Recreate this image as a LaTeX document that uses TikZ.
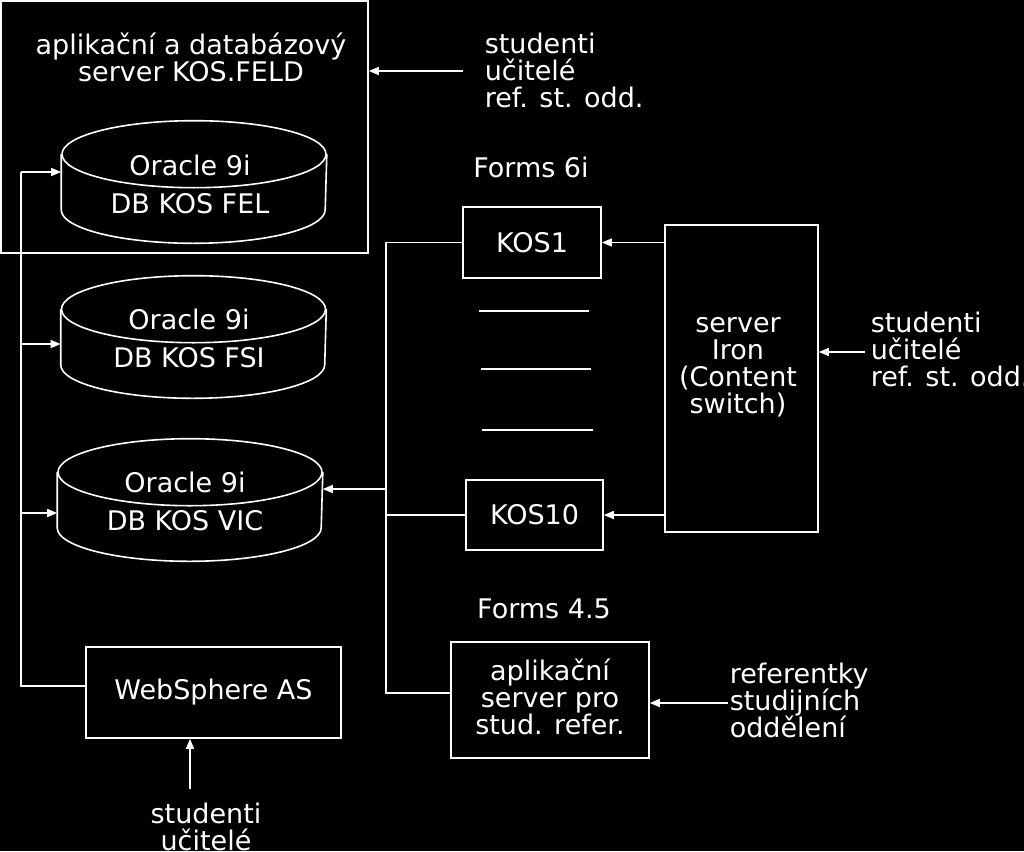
\documentclass[tikz,border=0pt]{standalone}
\usepackage{fontspec}
\setmainfont{DejaVu Sans}
\usetikzlibrary{arrows.meta}
\newcommand\zs{\rule[-6pt]{0pt}{27pt}}
\begin{document}
\lineskiplimit=-100pt
\lineskip=0pt
\begin{tikzpicture}[x=1pt,y=-1pt,line width=1.6pt,color=white,
  every node/.style={text=white,font=\fontsize{27}{27}\selectfont,inner sep=0pt},
  box/.style={draw=white,rectangle},
  body/.style={rectangle,minimum height=54pt,minimum width=264pt},
  lbl/.style={align=center,anchor=north},
  lbll/.style={align=left,anchor=north west},
  arr/.style={-{Triangle[length=10pt,width=8pt]}}]
\fill[black] (0,0) rectangle (1024,851);
\useasboundingbox (0,0) rectangle (1024,851);

% application and database server
\node[box,minimum width=367pt,minimum height=252pt] (feld) at (184.5,127) {};
\node[lbl] (feldt) at (191,32) {\zs aplikační a databázový\\\zs server KOS.FELD};

% databases
\node[body] (db1) at (194,182) {};
\node[body] (db2) at (193.5,337) {};
\node[body] (db3) at (190,500) {};
\foreach \d in {db1,db2,db3}{
  \draw (\d.north) ellipse [x radius=132pt,y radius=33.5pt];
  \draw (\d.north west) -- (\d.south west) arc [start angle=180,end angle=360,x radius=132pt,y radius=33.5pt] -- (\d.north east);
}
\node[lbl] (db1t) at (190,154) {\zs Oracle 9i\\[10.5pt]\zs DB KOS FEL};
\node[lbl] (db2t) at (189,308) {\zs Oracle 9i\\[10.5pt]\zs DB KOS FSI};
\node[lbl] (db3t) at (185,471) {\zs Oracle 9i\\[10.5pt]\zs DB KOS VIC};

% WebSphere
\node[box,minimum width=255pt,minimum height=91pt] (ws) at (213.5,692.5) {WebSphere AS};

% Forms servers
\node[lbl] (f6) at (531,156) {\zs Forms 6i};
\node[box,minimum width=138pt,minimum height=71pt] (kos1) at (532,242.5) {KOS1};
\node[box,minimum width=137pt,minimum height=70pt] (kos10) at (534.5,515) {KOS10};
\draw (479,311) -- (589,311);
\draw (481,369) -- (591,369);
\draw (482,430) -- (593,430);

% server Iron
\node[box,minimum width=153pt,minimum height=307pt] (iron) at (741.5,378.5) {};
\node[lbl] (iront) at (738,311) {\zs server\\\zs Iron\\\zs (Content\\\zs switch)};

% Forms 4.5
\node[lbl] (f45) at (544,597) {\zs Forms 4.5};
\node[box,minimum width=198pt,minimum height=116pt,align=center] (app) at (550,700) {\zs aplikační\\\zs server pro\\\zs stud. refer.};

% user labels
\node[lbll] (u1) at (484,32) {\zs studenti\\\zs učitelé\\\zs ref. st. odd.};
\node[lbll] (u2) at (870,311) {\zs studenti\\\zs učitelé\\\zs ref. st. odd.};
\node[lbll] (u3) at (729,662) {\zs referentky\\\zs studijních\\\zs oddělení};
\node[lbl] (u4) at (206,802) {\zs studenti\\\zs učitelé};

% connectors: left bus
\coordinate (bl1) at (21,172);
\coordinate (bl2) at (21,344);
\coordinate (bl3) at (21,513);
\coordinate (bl4) at (21,686);
\draw (bl4 -| ws.west) -- (bl4) -- (bl1);
\draw[arr] (bl1) -- (bl1 -| db1.west);
\draw[arr] (bl2) -- (bl2 -| db2.west);
\draw[arr] (bl3) -- (bl3 -| db3.west);

% connectors: right bus
\coordinate (br1) at (386,242);
\coordinate (br2) at (386,489);
\coordinate (br3) at (386,693);
\draw (kos1.west) -- (kos1.west -| br1) -- (br3) -- (br3 -| app.west);
\draw (kos10.west) -- (kos10.west -| br1);
\draw[arr] (br2) -- (br2 -| db3.east);

% server Iron to KOS
\draw[arr] (iron.west |- kos1.west) -- (kos1.east);
\draw[arr] (iron.west |- kos10.west) -- (kos10.east);

% users
\coordinate (a1) at (463,71);
\coordinate (a2) at (865,352);
\coordinate (a3) at (728,703);
\coordinate (a4) at (190,789);
\draw[arr] (a1) -- (a1 -| feld.east);
\draw[arr] (a2) -- (a2 -| iron.east);
\draw[arr] (a3) -- (a3 -| app.east);
\draw[arr] (a4) -- (a4 |- ws.south);
\end{tikzpicture}
\end{document}
